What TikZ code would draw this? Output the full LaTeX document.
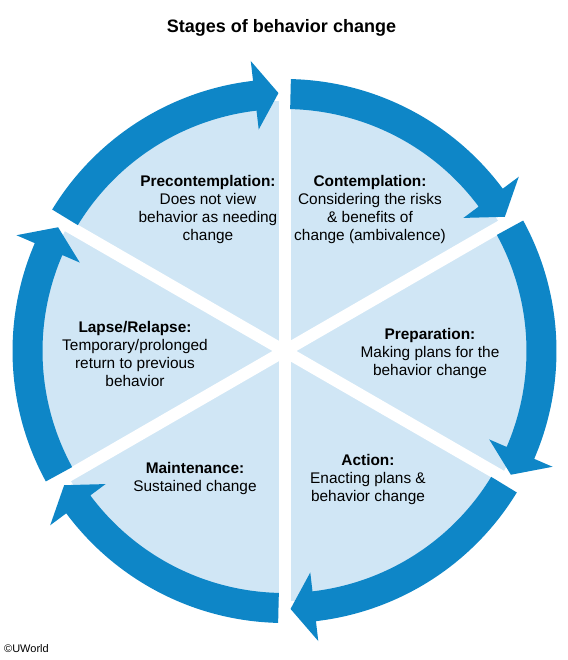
\documentclass[tikz,border=0pt]{standalone}
\usepackage{fontspec}
\setmainfont{Liberation Sans}
\definecolor{ringblue}{RGB}{14,134,199}
\definecolor{sectorblue}{RGB}{208,230,245}
\tikzset{
  stage/.style={align=center, font=\fontsize{15.4}{18}\selectfont},
  gap/.style={white, line width=12pt},
}
\begin{document}
\begin{tikzpicture}[x=1pt,y=1pt]
\useasboundingbox (-284.5,-309) rectangle (282.5,351);
\fill[sectorblue] (0,0) circle[radius=250];
\foreach \g in {90,30,-30} \draw[gap] (\g:300) -- (\g+180:300);
% ring segments with their heads
\foreach \s in {150,90,30,-30,-90,-150}{
  \pgfmathsetmacro\a{\s-1.34}
  \pgfmathsetmacro\b{\s-60+1.34}
  \pgfmathsetmacro\c{\b+5.3}
  \fill[ringblue] (\a:242) arc[start angle=\a, end angle=\c, radius=242]
    -- (\c:223) -- (\b:258) -- (\c:292) -- (\c:272)
    arc[start angle=\c, end angle=\a, radius=272] -- cycle;
}
\node [font=\fontsize{18}{22}\selectfont\bfseries] (title) at (-3,323) {Stages of behavior change};
\node [stage] (precon) at (-76.5,141) {\textbf{Precontemplation:}\\Does not view\\behavior as needing\\change};
\node [stage] (contemp) at (85.5,141) {\textbf{Contemplation:}\\Considering the risks\\\& benefits of\\change (ambivalence)};
\node [stage] (prep) at (145.5,-3) {\textbf{Preparation:}\\Making plans for the\\behavior change};
\node [stage] (action) at (83.5,-129) {\textbf{Action:}\\Enacting plans \&\\behavior change};
\node [stage] (maint) at (-89.5,-128) {\textbf{Maintenance:}\\Sustained change};
\node [stage] (lapse) at (-149.5,-3) {\textbf{Lapse/Relapse:}\\Temporary/prolonged\\return to previous\\behavior};
\node [font=\fontsize{11}{13}\selectfont, anchor=west, inner sep=0pt] (copyright) at (-280.5,-298) {©UWorld};
\end{tikzpicture}
\end{document}
